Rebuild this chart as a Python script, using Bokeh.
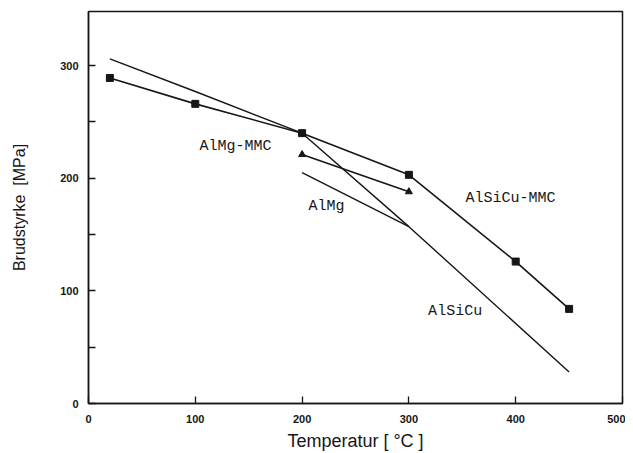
from bokeh.plotting import figure
from bokeh.models import Range1d, FixedTicker, ColumnDataSource
from bokeh.embed import file_html
from bokeh.resources import INLINE
from bokeh.core.properties import value

# ---- data ----
temp_alsicu_mmc = [20, 100, 200, 300, 400, 450]
str_alsicu_mmc = [289, 266, 240, 203, 126, 84]

temp_alsicu = [20, 100, 200, 300, 450]
str_alsicu = [306, 277, 240, 157, 28]

temp_almg_mmc = [200, 300]
str_almg_mmc = [221, 188]

temp_almg = [200, 300]
str_almg = [205, 157]

x_ticks = [0, 100, 200, 300, 400, 500]
y_ticks = [0, 100, 200, 300]
y_minor = [50, 150, 250]

label_names = ["AlMg-MMC", "AlMg", "AlSiCu-MMC", "AlSiCu"]
label_x = [104, 206, 353, 318]
label_y = [228, 175, 182, 82]

x_title = "Temperatur [ °C ]"
y_title = "Brudstyrke\u00a0 [MPa]"

INK = "#161616"

p = figure(width=625, height=453, output_backend="svg", toolbar_location=None,
           x_range=Range1d(0, 500), y_range=Range1d(0, 348),
           min_border_left=88, min_border_right=3, min_border_top=11, min_border_bottom=50)
p.background_fill_color = "white"
p.border_fill_color = "white"
p.grid.visible = False
p.outline_line_color = INK
p.outline_line_width = 1.5
p.outline_line_alpha = 1

for ax in (p.xaxis[0], p.yaxis[0]):
    ax.axis_line_color = INK
    ax.axis_line_width = 1.5
    ax.major_tick_in = 7
    ax.major_tick_out = 0
    ax.minor_tick_in = 7
    ax.minor_tick_out = 0
    ax.major_tick_line_color = INK
    ax.minor_tick_line_color = INK
    ax.major_tick_line_width = 1.3
    ax.minor_tick_line_width = 1.3
    ax.major_label_text_font = "Liberation Sans"
    ax.major_label_text_font_style = "bold"
    ax.major_label_text_font_size = "11px"
    ax.major_label_text_color = INK
    ax.axis_label_text_font = "Liberation Sans"
    ax.axis_label_text_font_style = "normal"
    ax.axis_label_text_color = INK

p.xaxis.ticker = FixedTicker(ticks=x_ticks)
p.yaxis.ticker = FixedTicker(ticks=y_ticks, minor_ticks=y_minor)
p.xaxis.major_label_standoff = 11
p.yaxis.major_label_standoff = 10
p.xaxis.axis_label = x_title
p.xaxis.axis_label_text_font_size = "18px"
p.xaxis.axis_label_standoff = 5
p.yaxis.axis_label = y_title
p.yaxis.axis_label_text_font_size = "16px"
p.yaxis.axis_label_standoff = 29

p.line(temp_alsicu, str_alsicu, line_color=INK, line_width=1.4)
p.line(temp_almg, str_almg, line_color=INK, line_width=1.4)
p.line(temp_alsicu_mmc, str_alsicu_mmc, line_color=INK, line_width=1.6)
p.scatter(temp_alsicu_mmc, str_alsicu_mmc, marker="square", size=7,
          fill_color=INK, line_color=INK)
p.line(temp_almg_mmc, str_almg_mmc, line_color=INK, line_width=1.6)
p.scatter(temp_almg_mmc, str_almg_mmc, marker="triangle", size=7,
          fill_color=INK, line_color=INK)

src = ColumnDataSource(dict(x=label_x, y=label_y, t=label_names))
p.text(x="x", y="y", text="t", source=src, text_font=value("Liberation Mono"),
       text_font_size="15px", text_color=INK, text_align="left",
       text_baseline="middle")

open("out.html", "w").write(file_html(p, INLINE))
